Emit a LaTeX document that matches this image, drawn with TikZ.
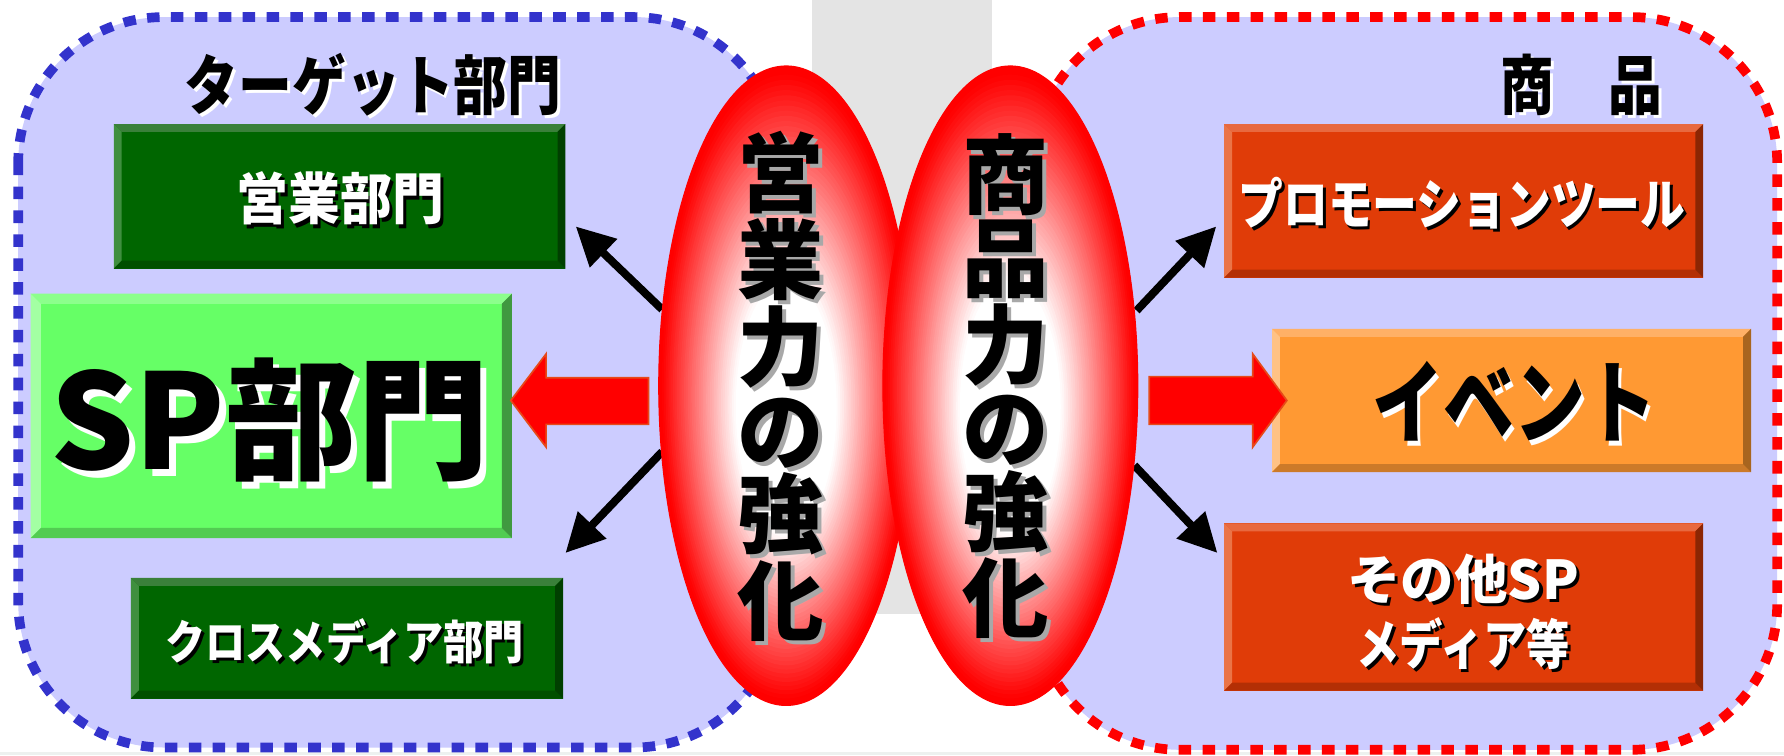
\documentclass[tikz,border=0pt]{standalone}
\usepackage{fontspec}
\usetikzlibrary{shapes.geometric,arrows.meta}
\IfFontExistsTF{Noto Sans CJK JP Black}
 {\newfontfamily\jpb{Noto Sans CJK JP Black}}
 {\IfFontExistsTF{Noto Sans CJK JP Bold}
   {\newfontfamily\jpb{Noto Sans CJK JP Bold}}
   {\newfontfamily\jpb{Noto Sans CJK JP}[FakeBold=2]}}
\definecolor{lav}{HTML}{CCCCFF}
\definecolor{dblue}{HTML}{3333CC}
\definecolor{dg}{HTML}{006600}
\definecolor{dgT}{HTML}{3A803A}
\definecolor{dgL}{HTML}{3F8F3F}
\definecolor{dgB}{HTML}{004F00}
\definecolor{dgR}{HTML}{003F00}
\definecolor{lg}{HTML}{66FF66}
\definecolor{lgT}{HTML}{8CFF8C}
\definecolor{lgL}{HTML}{A3FFA3}
\definecolor{lgB}{HTML}{52CC52}
\definecolor{lgR}{HTML}{409940}
\definecolor{og}{HTML}{E03C08}
\definecolor{ogT}{HTML}{E8693F}
\definecolor{ogL}{HTML}{EA7447}
\definecolor{ogB}{HTML}{B32F05}
\definecolor{ogR}{HTML}{8C2603}
\definecolor{orn}{HTML}{FF9933}
\definecolor{ornT}{HTML}{FFB066}
\definecolor{ornL}{HTML}{FFC285}
\definecolor{ornB}{HTML}{CC7A29}
\definecolor{ornR}{HTML}{A8651F}
\definecolor{grs}{HTML}{E4E4E4}
\definecolor{botg}{HTML}{EDF1EF}
\definecolor{shg}{HTML}{A8A8A8}
\definecolor{aout}{HTML}{E64A19}
% shadowed text: #1 offset, #2 shadow colour, #3 text colour, #4 text
\newcommand\shd[4]{\makebox[0pt][l]{\hspace*{#1}\raisebox{-#1}{\color{#2}#4}}{\color{#3}#4}}
\newcommand\vt[1]{\shd{3.5pt}{shg}{black}{#1}}
% bevel: #1 node, #2 width, #3 top, #4 left, #5 bottom, #6 right
\newcommand\bevel[6]{%
 \fill[#3] (#1.north west) -- (#1.north east) -- ([shift={(-#2,-#2)}]#1.north east) -- ([shift={(#2,-#2)}]#1.north west) -- cycle;
 \fill[#4] (#1.north west) -- (#1.south west) -- ([shift={(#2,#2)}]#1.south west) -- ([shift={(#2,-#2)}]#1.north west) -- cycle;
 \fill[#5] (#1.south west) -- (#1.south east) -- ([shift={(-#2,#2)}]#1.south east) -- ([shift={(#2,#2)}]#1.south west) -- cycle;
 \fill[#6] (#1.north east) -- (#1.south east) -- ([shift={(-#2,#2)}]#1.south east) -- ([shift={(-#2,-#2)}]#1.north east) -- cycle;}
% elliptical white-to-red gradient inside node #1
\newcommand\ovalgrad[1]{%
 \foreach \k in {0,...,44}{%
  \pgfmathsetmacro\gs{0.99-0.0145*\k}%
  \pgfmathtruncatemacro\gt{min(100,max(0,round(100*(\gs-0.4)/0.58)))}%
  \pgfmathsetmacro\go{20*(1-\gs)/0.65}%
  \pgfmathsetmacro\grx{112*\gs}%
  \pgfmathsetmacro\gry{281*\gs}%
  \fill[red!\gt!white] ([yshift=-\go pt]#1.center) ellipse [x radius=\grx pt, y radius=\gry pt];
 }}
\begin{document}
\begin{tikzpicture}[x=1pt,y=-1pt,
  box/.style={rectangle, inner sep=0pt, outer sep=0pt, draw=none},
  lbl/.style={inner sep=0pt, outer sep=0pt, align=center},
  arr/.style={line width=7pt, -{Triangle[length=34pt,width=33pt]}},
  blk/.style={fill=red, draw=aout, line width=1.5pt, line join=miter},
  panel/.style={fill=lav, line width=8.5pt, dash pattern=on 11pt off 10pt, rounded corners=128pt},
  oval/.style={ellipse, minimum width=224pt, minimum height=562pt, inner sep=0pt, fill=red, draw=red, line width=1pt}]
\useasboundingbox (0,0) rectangle (1568,664);
\fill[white] (0,0) rectangle (1568,664);
\fill[grs] (714,0) rectangle (872,540);
\fill[botg] (0,661) rectangle (1568,664);
% panels
\draw[panel, draw=dblue] (16,15) rectangle (685,657);
\draw[panel, draw=red] (909,15) rectangle (1562,659);
% titles
\node[lbl, font=\jpb\fontsize{57}{57}\selectfont] (ttl1) at (328,76) {\scalebox{0.83}[1]{\shd{3pt}{white}{black}{ターゲット部門}}};
\node[lbl, font=\jpb\fontsize{57}{57}\selectfont] (ttl2) at (1390,76) {\scalebox{0.83}[1]{\shd{3pt}{white}{black}{商　品}}};
% left boxes
\node[box, fill=dg, minimum width=397pt, minimum height=127pt] (eigyo) at (298.5,172.5) {};
\bevel{eigyo}{7pt}{dgT}{dgL}{dgB}{dgR}
\node[lbl, font=\jpb\fontsize{49}{49}\selectfont] (eigyo-t) at (299,176) {\scalebox{0.93}[1]{\shd{3pt}{black}{white}{営業部門}}};
\node[box, fill=lg, minimum width=423pt, minimum height=215pt] (sp) at (238.5,365.5) {};
\bevel{sp}{9pt}{lgT}{lgL}{lgB}{lgR}
\node[lbl, font=\jpb\fontsize{116}{116}\selectfont] (sp-t) at (237,372) {\shd{6pt}{white}{black}{SP部門}};
\node[box, fill=dg, minimum width=380pt, minimum height=106pt] (cross) at (305,561) {};
\bevel{cross}{7pt}{dgT}{dgL}{dgB}{dgR}
\node[lbl, font=\jpb\fontsize{41}{41}\selectfont] (cross-t) at (303,565) {\scalebox{0.86}[1]{\shd{3pt}{black}{white}{クロスメディア部門}}};
% right boxes
\node[box, fill=og, minimum width=421pt, minimum height=135pt] (promo) at (1286.5,176.5) {};
\bevel{promo}{7pt}{ogT}{ogL}{ogB}{ogR}
\node[lbl, font=\jpb\fontsize{48}{48}\selectfont] (promo-t) at (1285,180) {\scalebox{0.82}[1]{\shd{3pt}{black}{white}{プロモーションツール}}};
\node[box, fill=orn, minimum width=421pt, minimum height=126pt] (event) at (1328.5,352) {};
\bevel{event}{7pt}{ornT}{ornL}{ornB}{ornR}
\node[lbl, font=\jpb\fontsize{80}{80}\selectfont] (event-t) at (1331,355) {\scalebox{0.78}[1]{\shd{4pt}{white}{black}{イベント}}};
\node[box, fill=og, minimum width=421pt, minimum height=147pt] (other) at (1286.5,533.5) {};
\bevel{other}{7pt}{ogT}{ogL}{ogB}{ogR}
\node[lbl, font=\jpb\fontsize{47}{57}\selectfont] (other-t) at (1286,539) {\shd{3pt}{black}{white}{その他SP}\\\scalebox{0.81}[1]{\shd{3pt}{black}{white}{メディア等}}};
% block arrows
\draw[blk] (449,352) -- (480,311) -- (480,332) -- (570,332) -- (570,373) -- (480,373) -- (480,393) -- cycle;
\draw[blk] (1131,352) -- (1101,311) -- (1101,331) -- (1010,331) -- (1010,373) -- (1101,373) -- (1101,393) -- cycle;
% black arrows
\coordinate (a1s) at (582,272); \coordinate (a1e) at (506,199);
\coordinate (a2s) at (582,397); \coordinate (a2e) at (497,486);
\coordinate (a3s) at (999,273); \coordinate (a3e) at (1069,199);
\coordinate (a4s) at (997,409); \coordinate (a4e) at (1070,486);
\draw[arr] (a1s) -- (a1e);
\draw[arr] (a2s) -- (a2e);
\draw[arr] (a3s) -- (a3e);
\draw[arr] (a4s) -- (a4e);
% ovals
\node[oval] (ell1) at (691,339) {};
\ovalgrad{ell1}
\node[oval] (ell2) at (888,339) {};
\ovalgrad{ell2}
\node[lbl, font=\jpb\fontsize{76}{73.2}\selectfont] (ell1-t) at (686,341) {\vt{営}\\\vt{業}\\\vt{力}\\\vt{の}\\\vt{強}\\\vt{化}};
\node[lbl, font=\jpb\fontsize{76}{73.2}\selectfont] (ell2-t) at (884,341) {\vt{商}\\\vt{品}\\\vt{力}\\\vt{の}\\\vt{強}\\\vt{化}};
\end{tikzpicture}
\end{document}
